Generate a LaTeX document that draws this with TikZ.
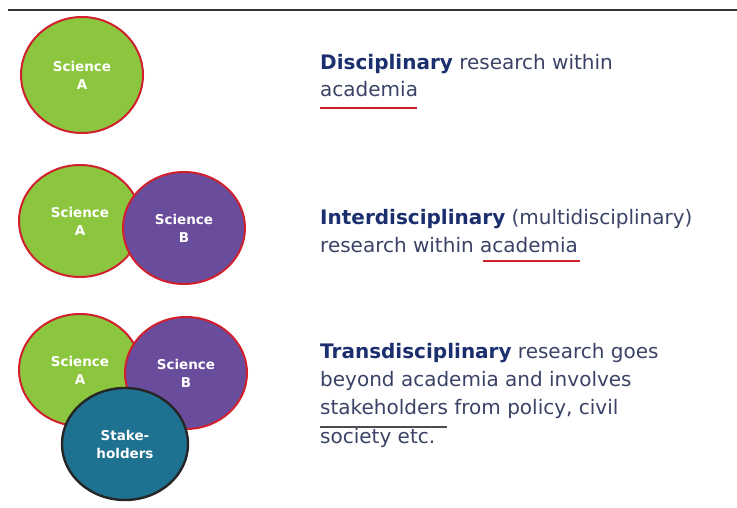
\documentclass[tikz,border=0pt]{standalone}
\usepackage{fontspec}
\setmainfont{DejaVu Sans}
\usetikzlibrary{positioning,shapes.geometric}
\definecolor{scia}{HTML}{8CC63E}
\definecolor{scib}{HTML}{6A4C9C}
\definecolor{stakec}{HTML}{1E7190}
\definecolor{rimc}{HTML}{D0202E}
\definecolor{headc}{HTML}{1B2F6E}
\definecolor{bodyc}{HTML}{3A4266}
\tikzset{
  blob/.style={ellipse, inner sep=0pt, minimum width=122pt, minimum height=112pt,
    align=center, text=white, font=\bfseries\fontsize{13.5}{18}\selectfont},
  sciA/.style={blob, fill=scia, draw=rimc, line width=2pt},
  sciB/.style={blob, fill=scib, draw=rimc, line width=2pt},
  stake/.style={blob, fill=stakec, draw=black!85, line width=2.4pt, minimum width=126pt},
  desc/.style={anchor=base west, align=left, text=bodyc, inner sep=0pt,
    font=\fontsize{20}{27.5}\selectfont},
  redline/.style={rimc, line width=1.8pt},
}
\newcommand{\head}[1]{\textcolor{headc}{\bfseries #1}}

\begin{document}
\begin{tikzpicture}[x=1pt,y=-1pt]
  \useasboundingbox (0,0) rectangle (737,508);
  \draw[black!80, line width=2pt] (8,10) -- (737,10);

  % Disciplinary (anchor is the last baseline)
  \node[sciA, minimum height=116pt] (a1) at (82,75) {Science\\A};
  \node[desc] (t1) at (320,97) {\head{Disciplinary} research within\\academia};
  \draw[redline] (320,108) -- (417,108);

  % Interdisciplinary
  \node[sciA] (a2) at (80,221) {Science\\A};
  \node[sciB] (b2) at (184,228) {Science\\B};
  \node[desc] (t2) at (320,252) {\head{Interdisciplinary} (multidisciplinary)\\research within academia};
  \draw[redline] (483,261) -- (580,261);

  % Transdisciplinary
  \node[sciA] (a3) at (80,370) {Science\\A};
  \node[sciB] (b3) at (186,373) {Science\\B};
  \node[stake] (s3) at (125,444) {Stake-\\holders};
  \node[desc, font=\fontsize{20}{28.2}\selectfont] (t3) at (320,443)
    {\head{Transdisciplinary} research goes\\beyond academia and involves\\stakeholders from policy, civil\\society etc.};
  \draw[black!70, line width=1.8pt] (320,427) -- (447,427);
\end{tikzpicture}
\end{document}
